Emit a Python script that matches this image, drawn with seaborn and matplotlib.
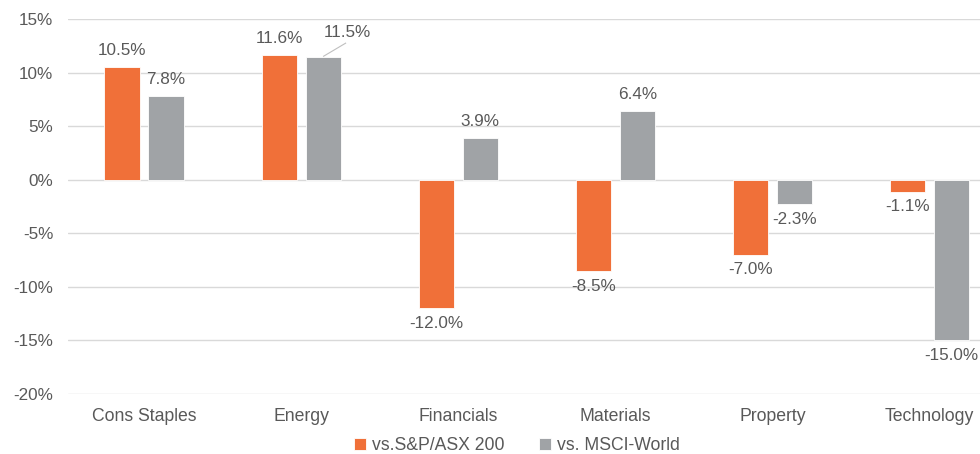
import matplotlib
matplotlib.use("Agg")
import matplotlib.pyplot as plt
import seaborn as sns
import pandas as pd

sectors = ["Cons Staples", "Energy", "Financials", "Materials", "Property", "Technology"]
series_names = ["vs.S&P/ASX 200", "vs. MSCI-World"]
asx_values = [10.5, 11.6, -12.0, -8.5, -7.0, -1.1]
msci_values = [7.8, 11.5, 3.9, 6.4, -2.3, -15.0]
y_ticks = [15, 10, 5, 0, -5, -10, -15, -20]

colors = ["#F07039", "#A0A3A6"]
text_color = "#595959"

df = pd.DataFrame({
    "sector": sectors * 2,
    "series": [series_names[0]] * len(sectors) + [series_names[1]] * len(sectors),
    "value": asx_values + msci_values,
})

sns.set_theme(style="white")
plt.rcParams["font.family"] = ["Liberation Sans", "DejaVu Sans"]

fig = plt.figure(figsize=(9.8, 4.54), dpi=100)
ax = fig.add_axes([68 / 980, 60 / 454, 937 / 980, 375 / 454])

sns.barplot(data=df, x="sector", y="value", hue="series", palette=colors,
            width=0.56, gap=0.2, ax=ax, saturation=1, edgecolor="white",
            linewidth=0.6, errorbar=None, legend=True)

ax.set_ylim(-20, 15)
ax.set_xlim(-0.484, 5.48)
ax.set_yticks(y_ticks)
ax.set_yticklabels([f"{t}%" for t in y_ticks], color=text_color, fontsize=12.3)
ax.tick_params(axis="y", length=0, pad=10.5)
ax.tick_params(axis="x", length=0, pad=10, labelsize=12.7, labelcolor=text_color)
ax.set_xlabel("")
ax.set_ylabel("")
ax.yaxis.grid(True, color="#D9D9D9", linewidth=1)
ax.set_axisbelow(True)
for s in ax.spines.values():
    s.set_visible(False)

# data labels
for ci, (cont, vals) in enumerate(zip(ax.containers, [asx_values, msci_values])):
    for bar, v in zip(cont, vals):
        cx = bar.get_x() + bar.get_width() / 2
        label = f"{v:.1f}%"
        if ci == 1 and abs(v - 11.5) < 1e-9:
            ax.plot([cx, cx + 0.146], [v, v + 1.27], color="#BFBFBF", lw=0.8,
                    solid_capstyle="butt", zorder=3)
            ax.text(cx + 0.153, v + 2.2, label, ha="center", va="center",
                    fontsize=12.3, color=text_color)
        elif v >= 0:
            ax.annotate(label, xy=(cx, v), xytext=(0, 12), textcoords="offset points",
                        ha="center", va="center", fontsize=12.3, color=text_color)
        else:
            ax.annotate(label, xy=(cx, v), xytext=(0, -11), textcoords="offset points",
                        ha="center", va="center", fontsize=12.3, color=text_color)

handles, labels = ax.get_legend_handles_labels()
ax.legend(handles, labels, loc="center", bbox_to_anchor=(517 / 980, 8 / 454),
          bbox_transform=fig.transFigure, ncol=2, frameon=False, fontsize=12.7,
          handlelength=0.65, handleheight=0.65, handletextpad=0.35, columnspacing=2.0,
          labelcolor=text_color)

fig.savefig("out.png", dpi=100)
